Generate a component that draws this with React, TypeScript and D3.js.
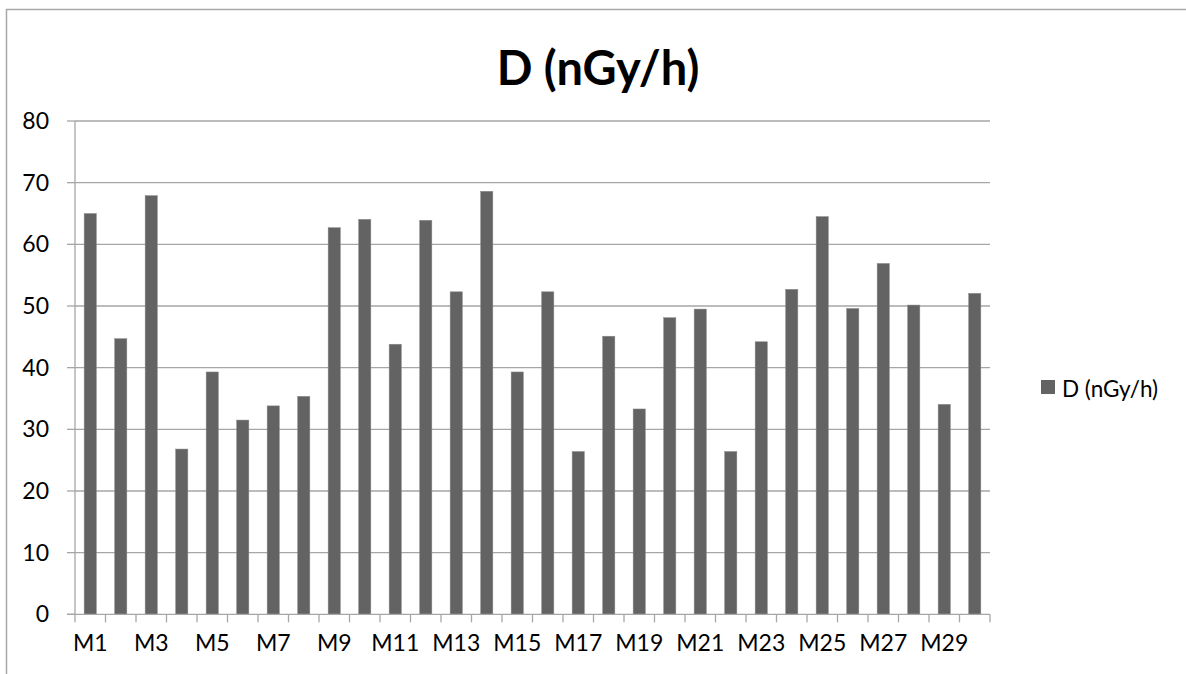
import React from "react";
import * as d3 from "d3";

const categories = Array.from({ length: 30 }, (_, i) => `M${i + 1}`);
const values = [
  65.0, 44.7, 67.9, 26.8, 39.3, 31.5, 33.8, 35.35, 62.7, 64.05,
  43.8, 63.9, 52.3, 68.6, 39.3, 52.3, 26.4, 45.1, 33.3, 48.1,
  49.5, 26.4, 44.2, 52.7, 64.5, 49.6, 56.9, 50.15, 34.05, 52.05,
];
const yTicks = [0, 10, 20, 30, 40, 50, 60, 70, 80];
const title = "D (nGy/h)";
const seriesName = "D (nGy/h)";

const W = 1186;
const H = 674;
const FONT = "Lato, 'Open Sans', sans-serif";

export default function App() {
  const left = 75;
  const right = 990;
  const top = 121;
  const bottom = 614.3;
  const x = d3.scaleBand<string>().domain(categories).range([left, right]).paddingInner(0.6).paddingOuter(0.3);
  const xb = d3.scaleBand<string>().domain(categories).range([left, right]);
  const y = d3.scaleLinear().domain([0, 80]).range([bottom, top]);
  const grid = "#a6a6a6";
  const barColor = "#636363";
  return (
    <svg width={W} height={H} style={{ position: "absolute", left: 0, top: 0, background: "#fff" }}>
      <rect x={6.5} y={9.5} width={W + 10} height={H + 10} fill="#fff" stroke="#a8a8a8" strokeWidth={1.5} />
      <text x={598} y={85} textAnchor="middle" fontFamily={FONT} fontWeight="bold" fontSize={47} fill="#000">
        {title}
      </text>
      {yTicks.map((t) => (
        <g key={t}>
          {t > 0 && <line x1={left} x2={right} y1={y(t)} y2={y(t)} stroke={grid} strokeWidth={1.3} />}
          <line x1={left - 8} x2={left} y1={y(t)} y2={y(t)} stroke={grid} strokeWidth={1.3} />
          <text x={49} y={y(t) + 8} textAnchor="end" fontFamily={FONT} fontSize={23} fill="#000">
            {t}
          </text>
        </g>
      ))}
      {values.map((v, i) => (
        <rect
          key={i}
          x={x(categories[i])!}
          y={y(v)}
          width={x.bandwidth()}
          height={bottom - y(v)}
          fill={barColor}
          stroke="#8a8a8a"
          strokeWidth={0.5}
        />
      ))}
      <line x1={left} x2={left} y1={top} y2={bottom} stroke={grid} strokeWidth={1.3} />
      <line x1={left - 8} x2={right} y1={bottom} y2={bottom} stroke={grid} strokeWidth={1.3} />
      {categories.map((c) => (
        <line key={"t" + c} x1={xb(c)!} x2={xb(c)!} y1={bottom} y2={bottom + 8} stroke={grid} strokeWidth={1.3} />
      ))}
      <line x1={right} x2={right} y1={bottom} y2={bottom + 8} stroke={grid} strokeWidth={1.3} />
      {categories.map((c, i) =>
        i % 2 === 0 ? (
          <text
            key={"l" + c}
            x={xb(c)! + xb.bandwidth() / 2}
            y={651}
            textAnchor="middle"
            fontFamily={FONT}
            fontSize={23}
            fill="#000"
          >
            {c}
          </text>
        ) : null
      )}
      <rect x={1041} y={380} width={14} height={14} fill={barColor} />
      <text x={1062} y={397} fontFamily={FONT} fontSize={22.5} fill="#000">
        {seriesName}
      </text>
    </svg>
  );
}
